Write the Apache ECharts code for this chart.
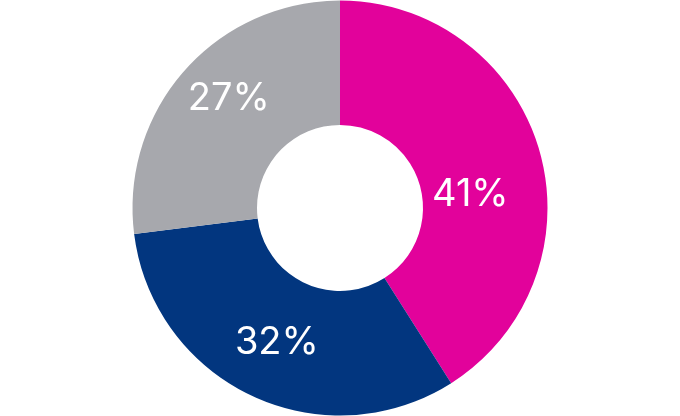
<!DOCTYPE html>
<html><head><meta charset="utf-8">
<script src="https://cdn.jsdelivr.net/npm/echarts@6/dist/echarts.min.js"></script>
<style>html,body{margin:0;padding:0;background:#fff}#c{width:680px;height:416px}</style>
</head><body><div id="c"></div>
<script>
var categories = ['A', 'B', 'C'];
var values = [41, 32, 27];
var colors = ['#E2029B', '#02367F', '#A7A8AD'];
var labelShift = [[-12, 28], [0, 0], [0, -11]];

var chart = echarts.init(document.getElementById('c'), null, {renderer: 'canvas'});
chart.setOption({
  animation: false,
  series: [{
    type: 'pie',
    center: ['50%', '50%'],
    radius: [83, 207.5],
    startAngle: 90,
    clockwise: true,
    silent: true,
    itemStyle: {borderWidth: 0},
    label: {
      show: true,
      position: 'inside',
      formatter: '{c}%',
      color: '#ffffff',
      fontFamily: 'Inter',
      fontWeight: 400,
      fontSize: 38
    },
    labelLine: {show: false},
    labelLayout: function (p) {
      var s = labelShift[p.dataIndex];
      return {dx: s[0], dy: s[1]};
    },
    data: categories.map(function (c, i) {
      return {name: c, value: values[i], itemStyle: {color: colors[i]}};
    })
  }]
});
</script></body></html>
